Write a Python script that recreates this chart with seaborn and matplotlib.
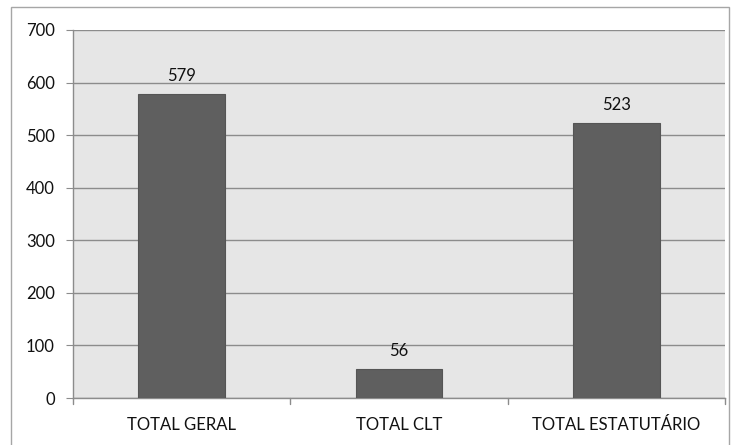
import matplotlib
matplotlib.use("Agg")
import matplotlib.pyplot as plt
import seaborn as sns
from matplotlib.patches import Rectangle

CATEGORIES = ["TOTAL GERAL", "TOTAL CLT", "TOTAL ESTATUTÁRIO"]
VALUES = [579, 56, 523]
Y_TICKS = [0, 100, 200, 300, 400, 500, 600, 700]


def main() -> None:
    sns.set_style("white")
    plt.rcParams["font.family"] = ["Lato", "DejaVu Sans"]

    fig = plt.figure(figsize=(7.36, 4.45), dpi=100)
    ax = fig.add_axes([0.0992, 0.1056, 0.8858, 0.827])
    ax.set_facecolor("#e6e6e6")

    sns.barplot(x=CATEGORIES, y=VALUES, color="#5f5f5f", width=0.4,
                saturation=1, edgecolor="#555555", linewidth=0.8, ax=ax, zorder=3)

    ax.set_ylim(0, 700)
    ax.set_yticks(Y_TICKS)
    ax.set_xlim(-0.5, 2.5)
    ax.yaxis.grid(True, color="#8c8c8c", linewidth=1.0, zorder=0)
    ax.set_axisbelow(True)

    for side in ["top", "right"]:
        ax.spines[side].set_visible(False)
    for side in ["left", "bottom"]:
        ax.spines[side].set_color("#8c8c8c")
        ax.spines[side].set_linewidth(1.0)

    ax.tick_params(axis="y", length=5, color="#8c8c8c", labelsize=12,
                   labelcolor="#111111", pad=8, left=True)
    ax.tick_params(axis="x", length=0, labelsize=12, labelcolor="#111111", pad=14)
    for xb in [-0.5, 0.5, 1.5, 2.5]:
        ax.plot([xb, xb], [0, -0.015], transform=ax.get_xaxis_transform(),
                color="#8c8c8c", linewidth=1.0, clip_on=False)

    for container in ax.containers:
        ax.bar_label(container, padding=7, fontsize=12, color="#111111")

    ax.set_xlabel("")
    ax.set_ylabel("")

    fig.patches.append(Rectangle((11 / 736, -0.05), (729 - 11) / 736, (445 - 7) / 445 + 0.05,
                                 transform=fig.transFigure, fill=False,
                                 edgecolor="#a6a6a6", linewidth=1.0))

    fig.savefig("out.png", dpi=100, facecolor="white")
    plt.close(fig)


if __name__ == "__main__":
    main()
